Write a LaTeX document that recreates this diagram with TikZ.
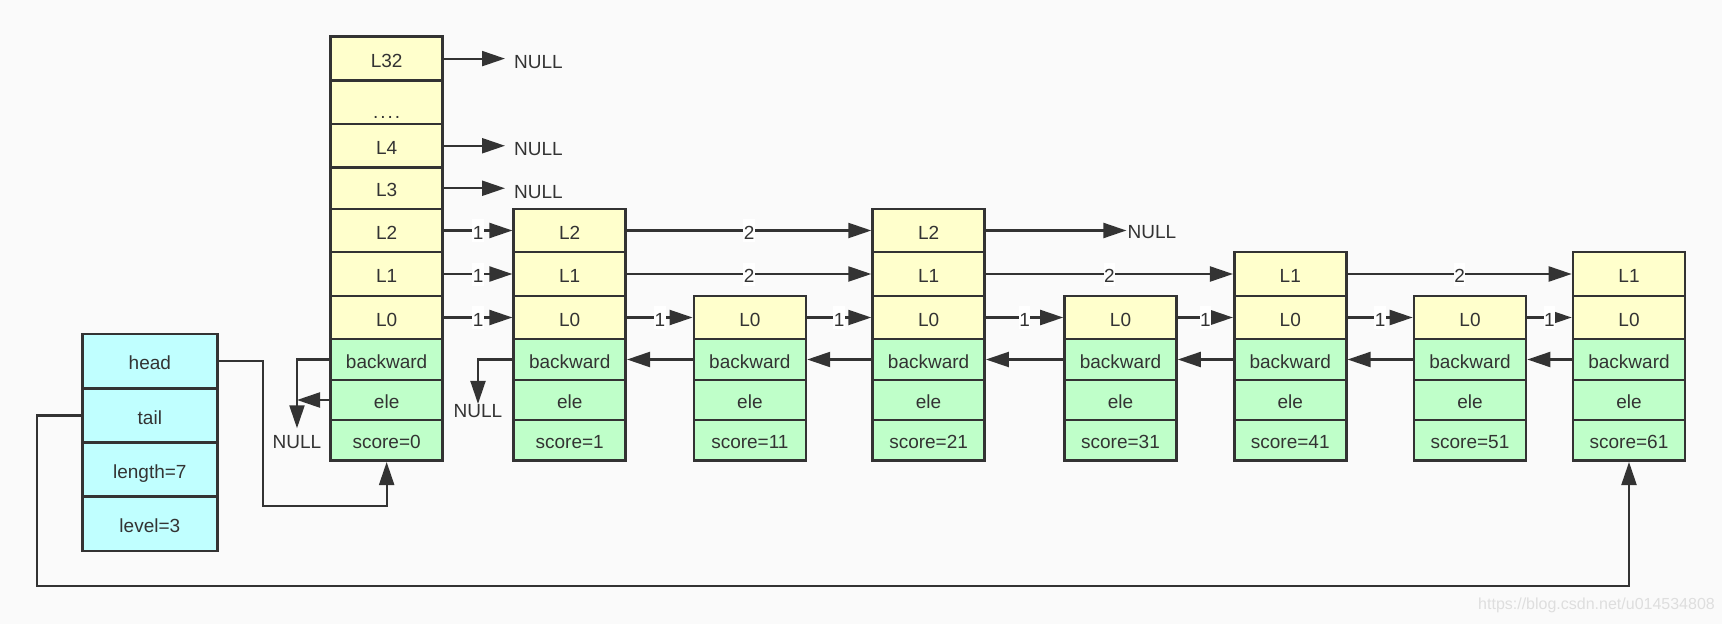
\documentclass[tikz,border=0pt]{standalone}
\usepackage{fontspec}
\setmainfont{Liberation Sans}
\usetikzlibrary{arrows.meta,calc}
\definecolor{lc}{HTML}{333333}
\definecolor{tc}{HTML}{333333}
\definecolor{ycol}{HTML}{FFFFCC}
\definecolor{gcol}{HTML}{BFFFC9}
\definecolor{ccol}{HTML}{C0FFFF}
\definecolor{bgc}{HTML}{FAFAFA}
\definecolor{wm}{HTML}{DEDEDE}
\newcommand\fnt{\fontsize{19}{22}\selectfont}
\tikzset{
  cell/.style={draw=lc, line width=2.6pt, minimum width=112pt, inner sep=0pt,
    text=tc, font=\fnt, text height=17pt, text depth=0pt},
  yel/.style={cell, fill=ycol},
  grn/.style={cell, fill=gcol},
  cyn/.style={cell, fill=ccol, minimum width=135pt, minimum height=54.2pt},
  lnk/.style={draw=lc, line width=2.2pt, -{Triangle[length=23pt,width=15pt]}},
  num/.style={fill=white, inner xsep=0.5pt, inner ysep=3pt, font=\fnt, text=tc,
    text height=17pt, text depth=0pt},
  nul/.style={font=\fnt, text=tc, inner sep=0pt},
  rL2/.style={minimum height=43pt},
  rL1/.style={minimum height=44pt},
}
\newcommand\skipbase[3]{%
  \node[yel, minimum height=43pt] (#1L0) at (#2,317.5) {L0};
  \node[grn, minimum height=41pt] (#1bw) at (#2,359.5) {backward};
  \node[grn, minimum height=40pt] (#1el) at (#2,400) {ele};
  \node[grn, minimum height=40.7pt] (#1sc) at (#2,440.35) {score=#3};
}
\begin{document}
\begin{tikzpicture}[x=1pt, y=-1pt]
\useasboundingbox (0,0) rectangle (1722,624);
\fill[bgc] (0,0) rectangle (1722,624);

% header node
\node[yel, minimum height=43.8pt] (n0L32) at (386.65,58.6) {L32};
\node[yel, minimum height=43.5pt, text height=32pt] (n0dots) at (386.65,102.25) {.\kern2pt.\kern2pt.\kern2pt.};
\node[yel, minimum height=43.5pt] (n0L4) at (386.65,145.75) {L4};
\node[yel, minimum height=41.5pt] (n0L3) at (386.65,188.25) {L3};
\node[yel, rL2] (n0L2) at (386.65,230.5) {L2};
\node[yel, rL1] (n0L1) at (386.65,274) {L1};
\skipbase{n0}{386.65}{0}

% node 1
\node[yel, rL2] (n1L2) at (569.7,230.5) {L2};
\node[yel, rL1] (n1L1) at (569.7,274) {L1};
\skipbase{n1}{569.7}{1}
% node 2
\skipbase{n2}{749.9}{11}
% node 3
\node[yel, rL2] (n3L2) at (928.6,230.5) {L2};
\node[yel, rL1] (n3L1) at (928.6,274) {L1};
\skipbase{n3}{928.6}{21}
% node 4
\skipbase{n4}{1120.5}{31}
% node 5
\node[yel, rL1] (n5L1) at (1290.25,274) {L1};
\skipbase{n5}{1290.25}{41}
% node 6
\skipbase{n6}{1470}{51}
% node 7
\node[yel, rL1] (n7L1) at (1629,274) {L1};
\skipbase{n7}{1629}{61}

% list header
\node[cyn] (head) at (149.85,361.15) {head};
\node[cyn] (tail) at (149.85,415.5) {tail};
\node[cyn] (len) at (149.85,469.7) {length=7};
\node[cyn] (lvl) at (149.85,523.7) {level=3};

% NULL labels
\node[nul, anchor=west, inner xsep=9pt] (nu32) at (505,62) {NULL};
\node[nul, anchor=west, inner xsep=9pt] (nu4) at (505,149) {NULL};
\node[nul, anchor=west, inner xsep=9pt] (nu3) at (505,192.3) {NULL};
\node[nul, anchor=west, inner xsep=1pt] (nuR) at (1126.4,232.5) {NULL};
\node[nul, inner ysep=6.6pt] (nub0) at (297,441.7) {NULL};
\node[nul] (nub1) at (478,410.7) {NULL};

% header level pointers to NULL
\draw[lnk] (n0L32) -- (n0L32 -| nu32.west);
\draw[lnk] (n0L4) -- (n0L4 -| nu4.west);
\draw[lnk] (n0L3) -- (n0L3 -| nu3.west);

% forward pointers
\draw[lnk] (n0L2) -- node[num]{1} (n1L2);
\draw[lnk] (n0L1) -- node[num]{1} (n1L1);
\draw[lnk] (n0L0) -- node[num]{1} (n1L0);
\draw[lnk] (n1L2) -- node[num]{2} (n3L2);
\draw[lnk] (n1L1) -- node[num]{2} (n3L1);
\draw[lnk] (n1L0) -- node[num]{1} (n2L0);
\draw[lnk] (n2L0) -- node[num]{1} (n3L0);
\draw[lnk] (n3L2) -- (n3L2 -| nuR.west);
\draw[lnk] (n3L1) -- node[num]{2} (n5L1);
\draw[lnk] (n3L0) -- node[num]{1} (n4L0);
\draw[lnk] (n4L0) -- node[num]{1} (n5L0);
\draw[lnk] (n5L1) -- node[num]{2} (n7L1);
\draw[lnk] (n5L0) -- node[num]{1} (n6L0);
\draw[lnk] (n6L0) -- node[num]{1} (n7L0);

% backward pointers
\draw[lnk] (n0bw) -| (nub0.north);
\draw[lnk] (n0el) -- (n0el -| nub0.north);
\draw[lnk] (n1bw) -| (nub1.north);
\draw[lnk] (n2bw) -- (n1bw);
\draw[lnk] (n3bw) -- (n2bw);
\draw[lnk] (n4bw) -- (n3bw);
\draw[lnk] (n5bw) -- (n4bw);
\draw[lnk] (n6bw) -- (n5bw);
\draw[lnk] (n7bw) -- (n6bw);

% head / tail pointers
\draw[lnk] (head.east) -- ++(44,0) |- ($(n0sc.south)+(0,44)$) -- (n0sc);
\draw[lnk] (tail.west) -- ++(-44,0) |- ($(n7sc.south)+(0,124)$) -- (n7sc);

% watermark
\node[font=\fontsize{16}{18}\selectfont, text=wm, anchor=west, inner sep=0pt] (wmk) at (1478,605.7) {https://blog.csdn.net/u014534808};
\end{tikzpicture}
\end{document}
